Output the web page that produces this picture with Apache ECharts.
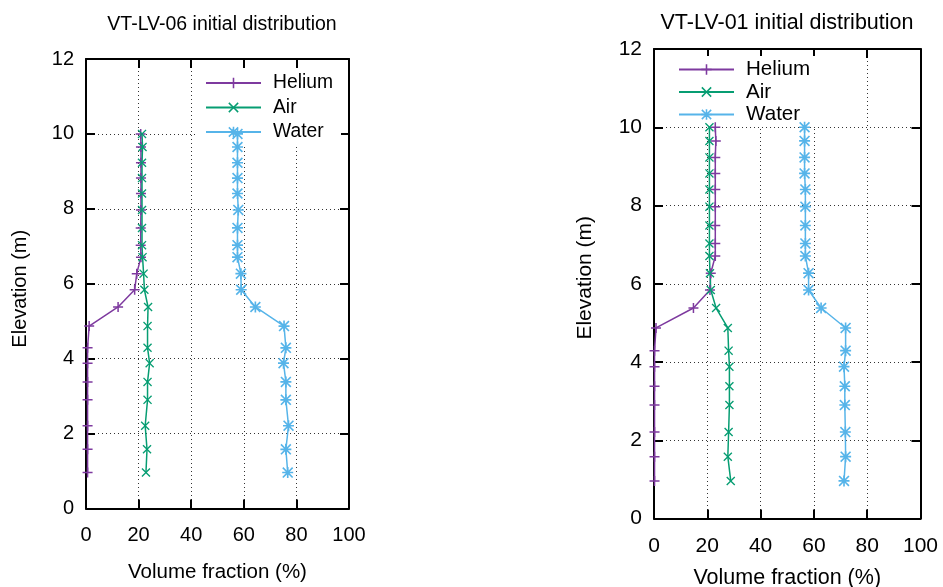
<!DOCTYPE html>
<html>
<head>
<meta charset="utf-8">
<script src="https://cdn.jsdelivr.net/npm/echarts@6/dist/echarts.min.js"></script>
<style>
html,body{margin:0;padding:0;background:#fff;}
#chart{width:943px;height:587px;}
</style>
</head>
<body>
<div id="chart"></div>
<script>
// ---- data ----
const seriesNames = ['Helium', 'Air', 'Water'];
const elevation = [0.96, 1.58, 2.21, 2.90, 3.38, 3.88, 4.29, 4.87, 5.38, 5.84, 6.27, 6.71, 7.03, 7.49, 7.97, 8.41, 8.82, 9.23, 9.65, 10.0];

const titleLV06 = 'VT-LV-06 initial distribution';
const heliumLV06 = [0.6, 0.6, 0.6, 0.6, 0.6, 0.6, 0.6, 1.2, 12.2, 18.5, 19.3, 20.9, 20.8, 20.8, 20.9, 20.9, 20.9, 20.9, 20.9, 20.8];
const airLV06    = [22.8, 23.2, 22.5, 23.4, 23.4, 24.2, 23.4, 23.4, 23.6, 22.2, 21.9, 21.5, 21.3, 21.3, 21.3, 21.3, 21.3, 21.3, 21.5, 21.3];
const waterLV06  = [76.7, 76.0, 77.0, 76.0, 76.0, 75.1, 76.0, 75.3, 64.4, 59.0, 58.9, 57.6, 57.6, 57.6, 57.9, 57.6, 57.6, 57.6, 57.6, 57.6];

const titleLV01 = 'VT-LV-01 initial distribution';
const heliumLV01 = [0.2, 0.2, 0.2, 0.2, 0.2, 0.2, 0.2, 0.75, 14.8, 21.0, 21.3, 23.0, 23.0, 23.0, 23.0, 23.0, 23.0, 23.0, 23.2, 23.0];
const airLV01    = [28.8, 27.7, 28.0, 28.3, 28.3, 28.3, 28.0, 27.7, 23.3, 21.3, 21.0, 20.8, 20.8, 20.8, 20.8, 20.8, 20.8, 20.8, 20.8, 20.8];
const waterLV01  = [71.3, 71.9, 71.8, 71.6, 71.6, 71.3, 71.9, 71.9, 62.7, 58.0, 58.0, 56.8, 56.8, 56.8, 56.8, 56.8, 56.5, 56.5, 56.5, 56.5];

const xTicks = {min: 0, max: 100, interval: 20};
const yTicks = {min: 0, max: 12, interval: 2};
const xAxisName = 'Volume fraction (%)';
const yAxisName = 'Elevation (m)';

// ---- style ----
const FONT = 'Liberation Sans, Arial, sans-serif';
const colors = {Helium: '#7e3a9f', Air: '#069d72', Water: '#56b4e9'};
const symPlus = 'path://M8.5,0H11.5V8.5H20V11.5H11.5V20H8.5V11.5H0V8.5H8.5Z';
const symCross = 'path://M0,2.1L2.1,0L10,7.9L17.9,0L20,2.1L12.1,10L20,17.9L17.9,20L10,12.1L2.1,20L0,17.9L7.9,10Z';
const symStar = symPlus + ' ' + symCross.replace('path://', '');
const symbols = {Helium: symPlus, Air: symCross, Water: symStar};
const symSizes = {Helium: 10, Air: 9, Water: 11};

function zip(xs) { return xs.map((v, i) => [v, elevation[i]]); }

function mkSeries(name, xs, idx) {
  return {
    name: name, type: 'line', xAxisIndex: idx * 2, yAxisIndex: idx * 2,
    data: zip(xs), symbol: symbols[name], symbolSize: symSizes[name],
    showAllSymbol: true, z: 5, animation: false,
    lineStyle: {color: colors[name], width: 1.5},
    itemStyle: {color: colors[name], borderWidth: 0}
  };
}

const axisLine = {show: true, onZero: false, lineStyle: {color: '#000', width: 2}};
const axisTick = {show: true, inside: true, length: 9, lineStyle: {color: '#000', width: 2}};
const splitLine = {show: true, lineStyle: {color: '#333', width: 1, type: [1, 3]}};

function xAxes(grid, gap, nameSize, tickSize) {
  return [
    Object.assign({}, xTicks, {
      gridIndex: grid, type: 'value', position: 'bottom',
      axisLine, axisTick, splitLine,
      axisLabel: {fontSize: tickSize, color: '#000', margin: 17, fontFamily: FONT},
      name: xAxisName, nameLocation: 'middle', nameGap: gap,
      nameTextStyle: {fontSize: nameSize, color: '#000', fontFamily: FONT}
    }),
    Object.assign({}, xTicks, {
      gridIndex: grid, type: 'value', position: 'top',
      axisLine, axisTick, splitLine: {show: false}, axisLabel: {show: false}
    })
  ];
}
function yAxes(grid, gap, nameSize, tickSize, pad) {
  return [
    Object.assign({}, yTicks, {
      gridIndex: grid, type: 'value', position: 'left',
      axisLine, axisTick, splitLine,
      axisLabel: {fontSize: tickSize, color: '#000', margin: 12, fontFamily: FONT},
      name: yAxisName, nameLocation: 'middle', nameGap: gap,
      nameTextStyle: {fontSize: nameSize, color: '#000', fontFamily: FONT, padding: pad}
    }),
    Object.assign({}, yTicks, {
      gridIndex: grid, type: 'value', position: 'right',
      axisLine, axisTick, splitLine: {show: false}, axisLabel: {show: false}
    })
  ];
}

function legendOf(fs) {
  return {
    data: seriesNames, orient: 'vertical', itemWidth: 55, itemHeight: 13,
    backgroundColor: '#fff', z: 3, selectedMode: false,
    textStyle: {fontSize: fs, color: '#000', fontFamily: FONT, lineHeight: 20, padding: [0, 0, 0, 7]}
  };
}

const option = {
  animation: false,
  backgroundColor: '#fff',
  title: [
    {text: titleLV06, left: 222, top: 15, textAlign: 'center', padding: 0,
     textStyle: {fontSize: 19.5, fontWeight: 'normal', color: '#000', fontFamily: FONT}},
    {text: titleLV01, left: 787, top: 12, textAlign: 'center', padding: 0,
     textStyle: {fontSize: 21.5, fontWeight: 'normal', color: '#000', fontFamily: FONT}}
  ],
  legend: [
    Object.assign(legendOf(19.3), {left: 195, top: 70, itemGap: 4.5, padding: [3, 8, 5, 10]}),
    Object.assign(legendOf(20.6), {left: 668, top: 56, itemGap: 1.5, padding: [3, 8, 2, 10]})
  ],
  grid: [
    {left: 86, right: 943 - 349, top: 59, bottom: 587 - 508.5, containLabel: false, outerBoundsMode: 'none'},
    {left: 654, right: 943 - 920.5, top: 49, bottom: 587 - 518.5, containLabel: false, outerBoundsMode: 'none'}
  ],
  xAxis: [].concat(xAxes(0, 53.5, 20.5, 20), xAxes(1, 49, 21.5, 21)),
  yAxis: [].concat(yAxes(0, 56, 20, 20, [0, 10, 0, 0]), yAxes(1, 58, 21, 21, [0, 0, 0, 12])),
  series: [
    mkSeries('Helium', heliumLV06, 0),
    mkSeries('Air', airLV06, 0),
    mkSeries('Water', waterLV06, 0),
    mkSeries('Helium', heliumLV01, 1),
    mkSeries('Air', airLV01, 1),
    mkSeries('Water', waterLV01, 1)
  ]
};

const chart = echarts.init(document.getElementById('chart'), null, {renderer: 'canvas'});
chart.setOption(option);
</script>
</body>
</html>
